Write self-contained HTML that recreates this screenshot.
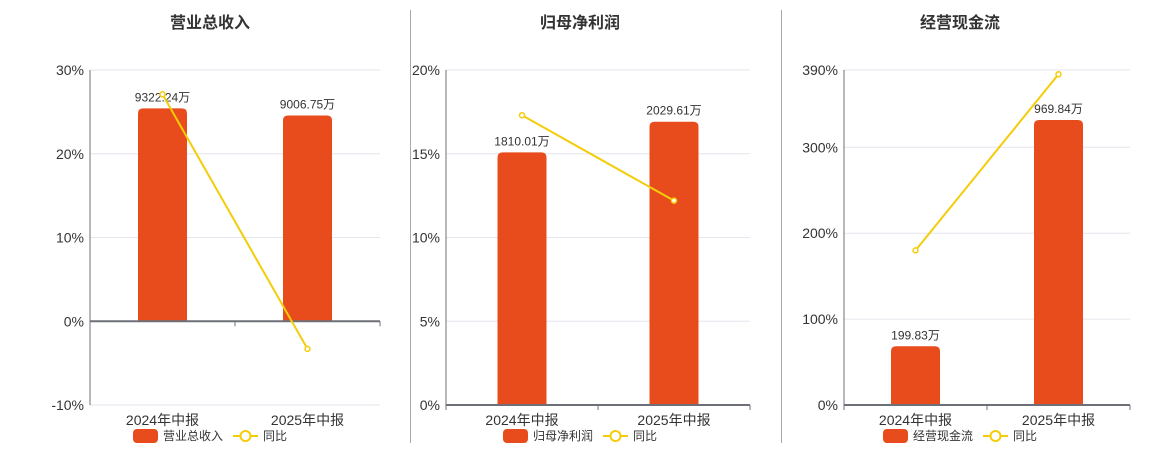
<!DOCTYPE html>
<html><head><meta charset="utf-8">
<style>
html,body{margin:0;padding:0;background:#fff;width:1160px;height:450px;overflow:hidden}
svg text{font-family:"Liberation Sans","DejaVu Sans","Noto Sans CJK SC",sans-serif}
</style></head>
<body>
<svg id="root" width="1160" height="450" xmlns="http://www.w3.org/2000/svg"></svg>
<script>
const categories = ["2024年中报","2025年中报"];
const titles = ["营业总收入","归母净利润","经营现金流"];
const barValues1 = [9322.24, 9006.75];
const barValues2 = [1810.01, 2029.61];
const barValues3 = [199.83, 969.84];
const yoy1 = [27.1, -3.3];
const yoy2 = [17.3, 12.2];
const yoy3 = [180, 385];
const ticks1 = [-10, 0, 10, 20, 30];
const ticks2 = [0, 5, 10, 15, 20];
const ticks3 = [0, 100, 200, 300, 390];
const barMax1 = 11000, barMax2 = 2400, barMax3 = 1140;

const svg = document.getElementById('root');
const NS = 'http://www.w3.org/2000/svg';
function mk(tag, attrs, parent, text){
  const e = document.createElementNS(NS, tag);
  for (const k in attrs) e.setAttribute(k, attrs[k]);
  if (text !== undefined) e.textContent = text;
  (parent || svg).appendChild(e);
  return e;
}

// dividers
let d1 = mk('line',{x1:410.5,y1:10,x2:410.5,y2:443,stroke:'#aaa','stroke-width':1});


let d2 = mk('line',{x1:781.5,y1:10,x2:781.5,y2:443,stroke:'#aaa','stroke-width':1});



const panels = [
  {title:titles[0], cx:210, x0:90, x1:380, ticks:ticks1, bars:barValues1, yoy:yoy1, barMax:barMax1, legendX:133},
  {title:titles[1], cx:580, x0:446, x1:750, ticks:ticks2, bars:barValues2, yoy:yoy2, barMax:barMax2, legendX:503},
  {title:titles[2], cx:960, x0:844, x1:1130, ticks:ticks3, bars:barValues3, yoy:yoy3, barMax:barMax3, legendX:883}
];
const yTop = 70, yBot = 405;

panels.forEach((p, pi) => {
  const g = mk('g',{});
  
  
  const t = mk('text',{x:p.cx,y:28,'text-anchor':'middle','font-size':16,'font-weight':'bold',fill:'#333'},g,p.title);
  
  
  const tmin = p.ticks[0], tmax = p.ticks[p.ticks.length-1];
  const yScale = v => yBot - (v - tmin)/(tmax - tmin)*(yBot - yTop);
  const zeroY = yScale(0);
  const barScale = v => zeroY - v/p.barMax*(zeroY - yTop);
  const n = categories.length;
  const cw = (p.x1 - p.x0)/n;
  const xC = i => p.x0 + cw*(i+0.5);
  // grid + tick labels
  p.ticks.forEach(tv => {
    const y = yScale(tv);
    const gl = mk('line',{x1:p.x0,y1:y,x2:p.x1,y2:y,stroke:'#e3e6ee','stroke-width':1},g);
    
    
    const tl = mk('text',{x:p.x0-6,y:y+5,'text-anchor':'end','font-size':14,fill:'#333'},g,tv+'%');
    
    
  });
  // y axis
  const ya = mk('line',{x1:p.x0,y1:yTop,x2:p.x0,y2:yBot,stroke:'#6e7079','stroke-width':1},g);
  
  
  // bars
  p.bars.forEach((v,i) => {
    const top = barScale(v), bw = 49;
    const b = mk('path',{d:`M${xC(i)-bw/2},${zeroY} V${top+5} Q${xC(i)-bw/2},${top} ${xC(i)-bw/2+5},${top} H${xC(i)+bw/2-5} Q${xC(i)+bw/2},${top} ${xC(i)+bw/2},${top+5} V${zeroY} Z`,fill:'#e84c1c'},g);
    
    
    const bl = mk('text',{x:xC(i),y:top-7,'text-anchor':'middle','font-size':12,fill:'#333'},g,v.toFixed(2)+'万');
    
    
  });
  // x axis
  const xa = mk('line',{x1:p.x0,y1:zeroY,x2:p.x1,y2:zeroY,stroke:'#6e7079','stroke-width':2},g);
  
  
  for (let i=0;i<=n;i++){
    const tk = mk('line',{x1:p.x0+cw*i,y1:zeroY,x2:p.x0+cw*i,y2:zeroY+5,stroke:'#6e7079','stroke-width':1},g);
    
    
  }
  categories.forEach((c,i) => {
    const cl = mk('text',{x:xC(i),y:425,'text-anchor':'middle','font-size':14,fill:'#333'},g,c);
    
    
  });
  // line
  const pts = p.yoy.map((v,i)=>xC(i)+','+yScale(v)).join(' ');
  const pl = mk('polyline',{points:pts,fill:'none',stroke:'#f5cc0a','stroke-width':2},g);
  
  
  p.yoy.forEach((v,i) => {
    const c = mk('circle',{cx:xC(i),cy:yScale(v),r:2.5,fill:'#fff',stroke:'#f5cc0a','stroke-width':1.5},g);
    
    
  });
  // legend
  const lx = p.legendX;
  const lr = mk('rect',{x:lx,y:429,width:25,height:14,rx:4,fill:'#e84c1c'},g);
  
  
  const lt = mk('text',{x:lx+30,y:440,'font-size':12,fill:'#333'},g,p.title);
  
  
  const lx2 = lx + 100;
  const ll = mk('line',{x1:lx2,y1:436,x2:lx2+25,y2:436,stroke:'#f5cc0a','stroke-width':2},g);
  
  
  const lc = mk('circle',{cx:lx2+12.5,cy:436,r:5,fill:'#fff',stroke:'#f5cc0a','stroke-width':2},g);
  
  
  const lt2 = mk('text',{x:lx2+30,y:440,'font-size':12,fill:'#333'},g,'同比');
  
  
});
</script>
</body></html>
